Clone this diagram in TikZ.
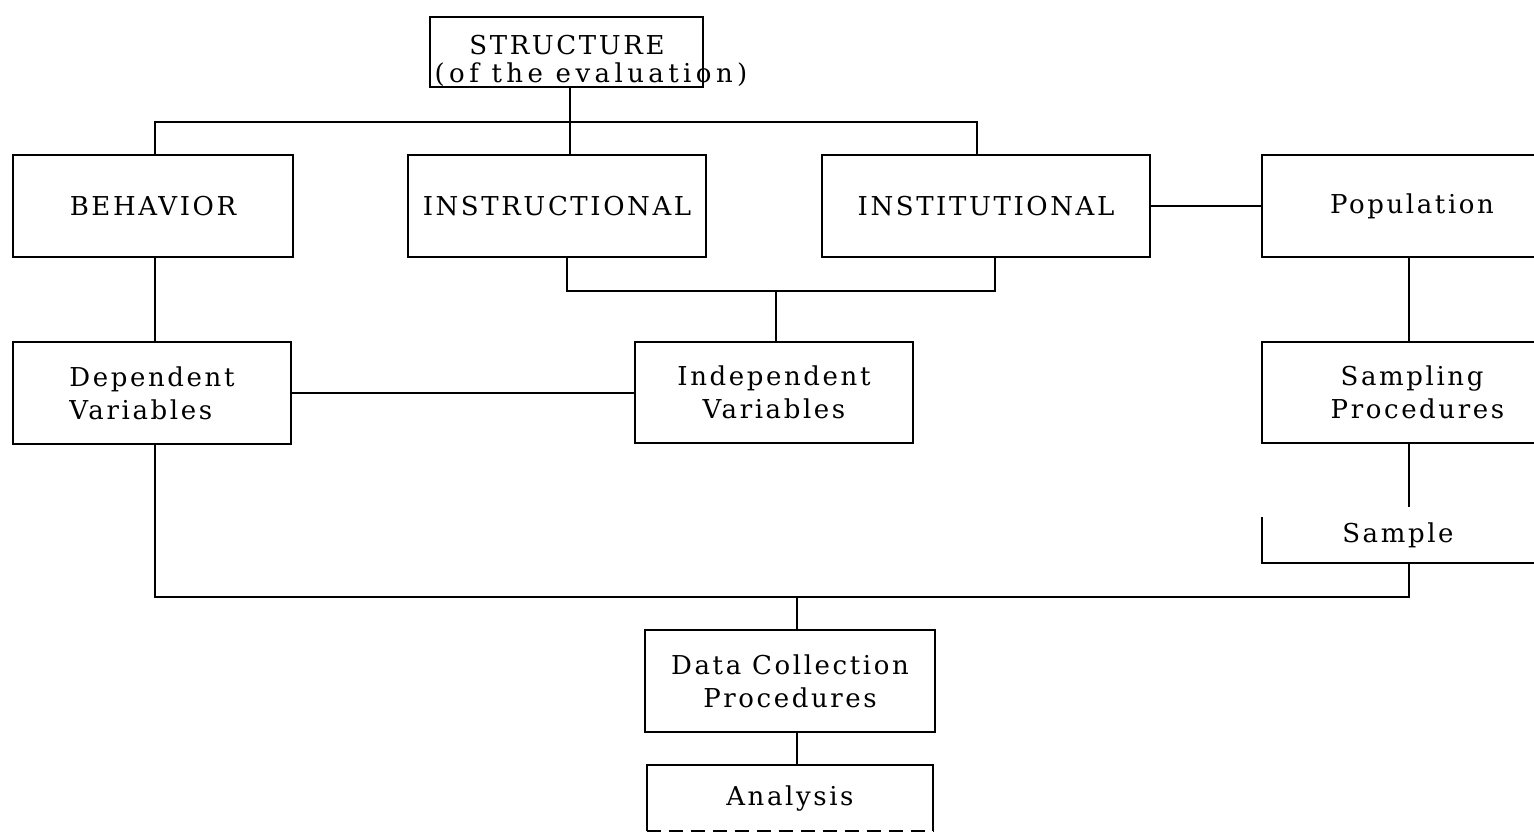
\documentclass[tikz,border=0pt]{standalone}
\usepackage{fontspec}
\setmainfont{DejaVu Serif}[LetterSpace=10.0]
\begin{document}
\begin{tikzpicture}[x=1pt,y=-1pt,
  every node/.style={font=\fontsize{26}{33}\selectfont, inner sep=0pt},
  box/.style={draw, line width=1.9pt, align=center},
  openbox/.style={align=center},
  lnk/.style={line width=1.9pt}]
\useasboundingbox (0,0) rectangle (1534,833);
\clip (0,0) rectangle (1534,833);
\fill[white] (0,0) rectangle (1534,833);

% boxes
\node[box, minimum width=273pt, minimum height=70pt] (struct) at (566.5,52) {};
\node (st1) at (567,45) {STRUCTURE};
\node (st2) at (591,75) {\addfontfeature{LetterSpace=17.0}(of the evaluation)};

\node[box, minimum width=280pt, minimum height=102pt] (beh) at (153,206) {BEHAVIOR};
\node[box, minimum width=298pt, minimum height=102pt] (instr) at (557,206) {INSTRUCTIONAL};
\node[box, minimum width=328pt, minimum height=102pt] (instit) at (986,206) {INSTITUTIONAL};
\node[box, minimum width=300pt, minimum height=102pt] (pop) at (1412,206) {Population};

\node[box, align=left, minimum width=278pt, minimum height=102pt] (dep) at (152,393) {Dependent\\Variables};
\node[box, minimum width=278pt, minimum height=101pt] (indep) at (774,392.5) {Independent\\Variables};
\node[box, minimum width=300pt, minimum height=101pt] (samp) at (1412,392.5) {Sampling\\\ Procedures};
\node[openbox, minimum width=272pt, minimum height=56pt] (sample) at (1398,535) {Sample};

\node[box, minimum width=290pt, minimum height=102pt] (dcp) at (790,681) {Data Collection\\Procedures};
\node[openbox, minimum width=286pt, minimum height=66pt] (anal) at (790,798) {Analysis};

% open sides of Sample and Analysis
\draw[lnk] ([yshift=46pt]sample.south west) -- (sample.south west) -- (sample.south east);
\draw[lnk] (anal.south west) -- (anal.north west) -- (anal.north east) -- (anal.south east);
\draw[lnk, dash pattern=on 14pt off 8pt] (anal.south west) -- (anal.south east);

% junction coordinates
\coordinate (b1L) at (155,122);
\coordinate (b1M) at (570,122);
\coordinate (b1R) at (977,122);
\coordinate (b2L) at (567,291);
\coordinate (b2M) at (776,291);
\coordinate (b2R) at (995,291);
\coordinate (b3L) at (155,597);
\coordinate (b3M) at (797,597);
\coordinate (b3R) at (1409,597);

% connectors
\draw[lnk] (struct.south -| b1M) -- (instr.north -| b1M);
\draw[lnk] (beh.north -| b1L) -- (b1L) -- (b1R) -- (instit.north -| b1R);
\draw[lnk] (instr.south -| b2L) -- (b2L) -- (b2R) -- (instit.south -| b2R);
\draw[lnk] (b2M) -- (indep.north -| b2M);
\draw[lnk] (beh.south -| b1L) -- (dep.north -| b1L);
\draw[lnk] (dep.east) -- (dep.east -| indep.west);
\draw[lnk] (instit.east) -- (instit.east -| pop.west);
\draw[lnk] (pop.south -| b3R) -- (samp.north -| b3R);
\draw[lnk] (samp.south -| b3R) -- (sample.north -| b3R);
\draw[lnk] (sample.south -| b3R) -- (b3R) -- (b3L) -- (dep.south -| b3L);
\draw[lnk] (b3M) -- (dcp.north -| b3M);
\draw[lnk] (dcp.south -| b3M) -- (anal.north -| b3M);
\end{tikzpicture}
\end{document}
